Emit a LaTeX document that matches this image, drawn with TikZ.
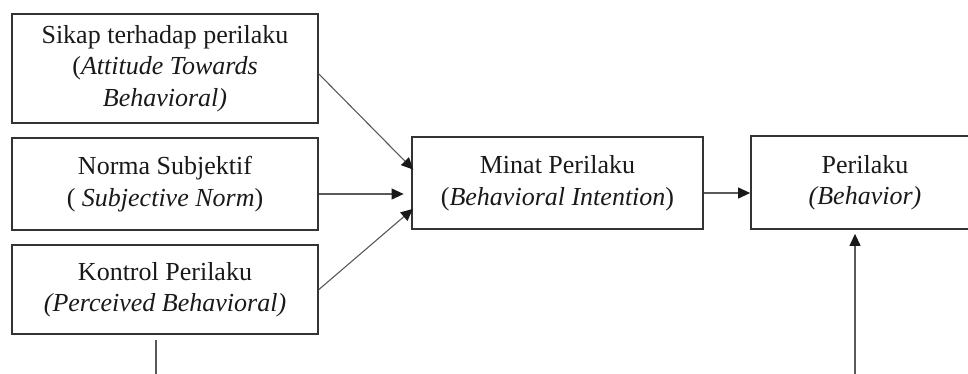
\documentclass[tikz,border=0pt]{standalone}
\usepackage{fontspec}
\setmainfont{Liberation Serif}
\usetikzlibrary{arrows.meta}
\begin{document}
\begin{tikzpicture}[x=1pt,y=-1pt,
  box/.style={draw=black!80, line width=1.8pt, align=center, inner sep=0pt,
    text=black!90, font=\fontsize{26}{31.5}\selectfont},
  conn/.style={draw=black!65, line width=1.1pt, -{Triangle[length=12pt,width=11pt,fill=black!90,color=black!90]}, shorten >=7.5pt},
  plain/.style={draw=black!65, line width=1.1pt}]
\useasboundingbox (0,0) rectangle (968,373);
\node[box, minimum width=306pt, minimum height=109pt] (b1) at (165,68.5)
  {Sikap terhadap perilaku\\(\textit{Attitude Towards}\\\textit{Behavioral)}};
\node[box, minimum width=306pt, minimum height=92pt] (b2) at (165,184)
  {Norma Subjektif\\( \textit{Subjective Norm})};
\node[box, minimum width=306pt, minimum height=89pt] (b3) at (165,289.5)
  {Kontrol Perilaku\\\textit{(Perceived Behavioral)}};
\node[box, minimum width=291pt, minimum height=92pt] (mi) at (557.5,183)
  {Minat Perilaku\\(\textit{Behavioral Intention})};
\node[box, minimum width=228pt, minimum height=93pt] (pe) at (865,182.5)
  {Perilaku\\\textit{(Behavior)}};
\coordinate (s1) at ([yshift=-5.5pt]b1.east);
\coordinate (s2) at ([yshift=-10pt]b2.east);
\coordinate (s3) at ([yshift=0pt]b3.east);
\coordinate (t1) at ([yshift=8pt]mi.west);
\coordinate (t3) at ([yshift=-21pt]mi.west);
\draw[conn] (s1) -- ([xshift=7.5pt]t1);
\draw[conn] (s2) -- (mi.west |- s2);
\draw[conn] (s3) -- ([xshift=7.5pt]t3);
\coordinate (m2) at ([yshift=-10pt]mi.east);
\draw[conn, shorten >=0pt] (m2) -- (pe.west |- m2);
\coordinate (bl) at (156,340);
\coordinate (bl2) at (156,375);
\draw[plain] (bl) -- (bl2);
\coordinate (br) at (855,375);
\draw[conn, shorten >=4pt] (br) -- (pe.south -| br);
\end{tikzpicture}
\end{document}
